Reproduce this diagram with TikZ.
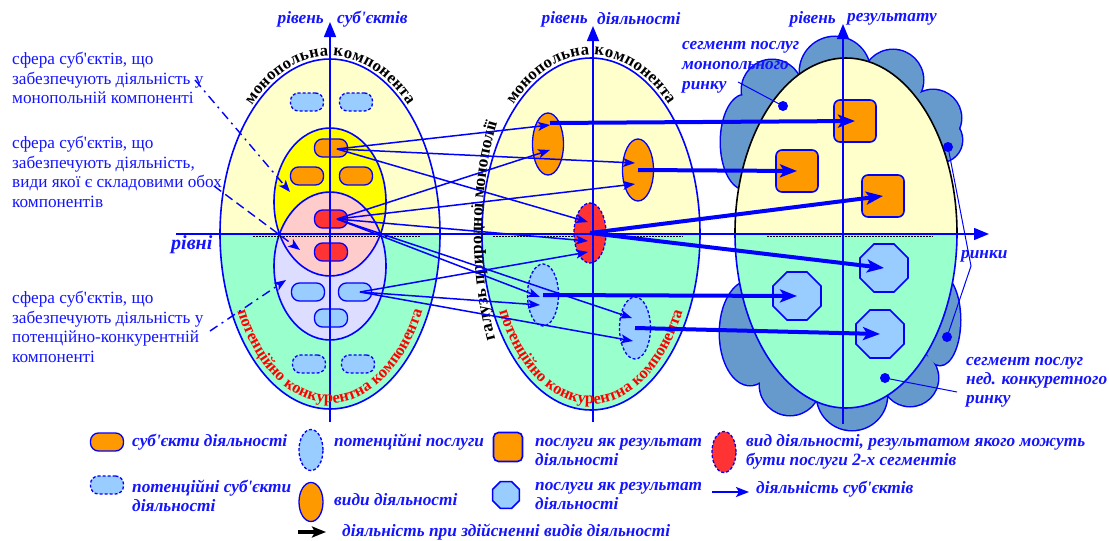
\documentclass[tikz,border=0pt]{standalone}
\usepackage{fontspec}
\setmainfont{Liberation Serif}[Ligatures=TeXOff]
\usetikzlibrary{arrows.meta,decorations.text,shapes.geometric}
\definecolor{lyel}{HTML}{FFFFCC}
\definecolor{lgrn}{HTML}{99FFCC}
\definecolor{yel}{HTML}{FFFF00}
\definecolor{pnk}{HTML}{FFCCCC}
\definecolor{lav}{HTML}{DDDDFF}
\definecolor{org}{HTML}{FF9900}
\definecolor{rd}{HTML}{FF3333}
\definecolor{lblu}{HTML}{99CCFF}
\definecolor{cld}{HTML}{6699CC}
\definecolor{tb}{HTML}{1414FF}
\definecolor{bl}{HTML}{0000FF}
\newcommand\lblfont{\fontsize{17.3}{19.5}\selectfont\bfseries\itshape}
\newcommand\annfont{\fontsize{17.2}{19.6}\selectfont}
\newcommand\crvfont{\fontsize{16.7}{17}\selectfont\bfseries}
\newcommand\crvfontr{\fontsize{16.5}{17}\selectfont\bfseries}
\newcommand\crvfontv{\fontsize{17.5}{18}\selectfont\bfseries}
\newcommand\halfell[4]{%
  \begin{scope}
  \clip (#1,#2) ellipse[x radius=#3,y radius=#4];
  \fill[lyel] (#1-#3,#2-#4) rectangle (#1+#3,#2);
  \fill[lgrn] (#1-#3,#2) rectangle (#1+#3,#2+#4);
  \end{scope}}
\tikzset{
  ol/.style={draw=bl, line width=1.3pt},
  subj/.style={ol, rectangle, rounded corners=8pt, minimum width=33pt, minimum height=18pt, inner sep=0pt, fill=org},
  psubj/.style={subj, fill=lblu, dash pattern=on 3pt off 2pt},
  rsubj/.style={subj, fill=rd},
  bsubj/.style={subj, fill=lblu},
  act/.style={ol, ellipse, minimum width=31pt, minimum height=62pt, inner sep=0pt, fill=org},
  pact/.style={act, fill=lblu, dash pattern=on 3pt off 2pt},
  ract/.style={act, fill=rd, dash pattern=on 3pt off 2pt},
  res/.style={ol, line width=1.6pt, rectangle, rounded corners=6pt, minimum size=42pt, inner sep=0pt, fill=org},
  pres/.style={ol, line width=1.6pt, regular polygon, regular polygon sides=8, minimum size=52pt, inner sep=0pt, fill=lblu},
  bigell/.style={draw=bl, line width=1.6pt},
  lbl/.style={text=tb, font=\lblfont, inner sep=0pt},
  ann/.style={text=tb, font=\annfont, inner sep=0pt, anchor=west, align=left},
  tarr/.style={draw=bl, line width=1.5pt, -{Stealth[length=12pt,width=9pt,inset=3pt]}},
  karr/.style={draw=bl, line width=4pt, -{Stealth[length=17pt,width=13pt,inset=4pt]}},
  axisl/.style={draw=bl, line width=1.5pt, -{Triangle[length=15pt,width=12pt]}},
  pointer/.style={draw=bl, line width=1pt},
  dotn/.style={circle, fill=bl, minimum size=10pt, inner sep=0pt},
  dda/.style={draw=bl, line width=1.4pt, dash pattern=on 9pt off 5pt on 2pt off 5pt, -{Stealth[length=12pt,width=9pt,inset=3pt]}},
  dsa/.style={draw=bl, line width=1.4pt, dash pattern=on 9pt off 5pt, -{Stealth[length=12pt,width=9pt,inset=3pt]}},
  divl/.style={draw=black, line width=0.8pt, dash pattern=on 1.5pt off 1.5pt},
}
\begin{document}
\begin{tikzpicture}[x=1pt,y=-1pt]
\useasboundingbox[fill=white] (0,0) rectangle (1109,541);
% ---------- clouds ----------
\begin{scope}[draw=bl, line width=3pt]
\draw (745,142) ellipse[x radius=24,y radius=47];
\draw (772,90) circle[radius=30];
\draw (835,72) circle[radius=35];
\draw (893,80) circle[radius=30];
\draw (933,118) circle[radius=28];
\draw (940,140) circle[radius=22];
\draw (940,320) ellipse[x radius=20,y radius=45];
\draw (910,378) circle[radius=28];
\draw (852,395) circle[radius=35];
\draw (790,385) circle[radius=30];
\draw (750,333) ellipse[x radius=30,y radius=52];
\end{scope}
\begin{scope}[fill=cld]
\fill (745,142) ellipse[x radius=24,y radius=47];
\fill (772,90) circle[radius=30];
\fill (835,72) circle[radius=35];
\fill (893,80) circle[radius=30];
\fill (933,118) circle[radius=28];
\fill (940,140) circle[radius=22];
\fill (745,190) -- (745,100) -- (772,90) -- (835,72) -- (893,80) -- (933,118) -- (940,140) -- (900,200) -- (780,200) -- cycle;
\fill (940,320) ellipse[x radius=20,y radius=45];
\fill (910,378) circle[radius=28];
\fill (852,395) circle[radius=35];
\fill (790,385) circle[radius=30];
\fill (750,333) ellipse[x radius=30,y radius=52];
\fill (760,290) -- (750,333) -- (790,385) -- (852,395) -- (910,378) -- (940,320) -- (930,290) -- cycle;
\end{scope}
% ---------- big ellipses ----------
\halfell{330}{234}{110}{175}
\draw[bigell] (330,234) ellipse[x radius=110,y radius=175];
\halfell{591}{234}{109}{176}
\draw[bigell] (591,234) ellipse[x radius=109,y radius=176];
\halfell{846}{233}{111}{175}
\draw[draw=black, line width=1.6pt] (735,233) arc[start angle=180, end angle=360, x radius=111, y radius=175];
\draw[bigell] (957,233) arc[start angle=0, end angle=180, x radius=111, y radius=175];
% ---------- left inner spheres ----------
\fill[yel] (330,202) ellipse[x radius=56,y radius=74];
\fill[lav] (330,266) ellipse[x radius=56,y radius=74];
\begin{scope}
\clip (330,202) ellipse[x radius=56,y radius=74];
\fill[pnk] (330,266) ellipse[x radius=56,y radius=74];
\end{scope}
\draw[bigell] (330,202) ellipse[x radius=56,y radius=74];
\draw[bigell] (330,266) ellipse[x radius=56,y radius=74];
% dotted dividers
\draw[divl] (253,236) -- (420,236);
\draw[divl] (493,236) -- (683,236);
\draw[divl] (767,236) -- (933,236);
% ---------- left subjects ----------
\node[psubj] (p1) at (307,102) {};
\node[psubj] (p2) at (356,102) {};
\node[subj] (s1) at (331,148) {};
\node[subj] (s2) at (307,176) {};
\node[subj] (s3) at (356,176) {};
\node[rsubj] (r1) at (331,219) {};
\node[rsubj] (r2) at (331,252) {};
\node[bsubj] (b1) at (308,292) {};
\node[bsubj] (b2) at (355,292) {};
\node[bsubj] (b3) at (331,318) {};
\node[psubj] (q1) at (309,364) {};
\node[psubj] (q2) at (358,364) {};
% ---------- middle activities ----------
\node[act] (e1) at (548,144) {};
\node[act] (e2) at (638,170) {};
\node[ract, minimum width=32pt, minimum height=60pt] (rr) at (590,233) {};
\node[pact] (l1) at (543,295) {};
\node[pact] (l2) at (635,328) {};
% ---------- right results ----------
\node[res] (k1) at (855,121) {};
\node[res] (k2) at (797,171) {};
\node[res] (k3) at (883,196) {};
\node[pres] (o1) at (884,268) {};
\node[pres] (o2) at (797,296) {};
\node[pres] (o3) at (880,334) {};
% ---------- axes ----------
\coordinate (v1b) at (330,422); \coordinate (v1t) at (330,22);
\coordinate (v2b) at (593,422); \coordinate (v2t) at (593,26);
\coordinate (v3b) at (843,424); \coordinate (v3t) at (843,24);
\coordinate (hl) at (176,234); \coordinate (hr) at (989,234);
\draw[axisl] (v1b) -- (v1t);
\draw[axisl] (v2b) -- (v2t);
\draw[axisl] (v3b) -- (v3t);
\draw[axisl] (hl) -- (hr);
% ---------- curved texts ----------
\path[decorate, decoration={text along path, text align=center, raise=3pt, text color=black, text={|\crvfont|монопольна компонента}}]
 (330,234) ++(200:110 and 175) arc[start angle=200, end angle=340, x radius=110, y radius=175];
\path[decorate, decoration={text along path, text align=center, text color=red, text={|\crvfontr|потенційно конкурентна компонента}}]
 (330,234) ++(165:104 and 169) arc[start angle=165, end angle=15, x radius=104, y radius=169];
\path[decorate, decoration={text along path, text align=center, raise=3pt, text color=black, text={|\crvfont|монопольна компонента}}]
 (591,234) ++(200:109 and 176) arc[start angle=200, end angle=340, x radius=109, y radius=176];
\path[decorate, decoration={text along path, text align=center, text color=red, text={|\crvfontr|потенційно конкурентна компонента}}]
 (591,234) ++(165:103 and 170) arc[start angle=165, end angle=15, x radius=103, y radius=170];
\path[decorate, decoration={text along path, text align=center, text color=black, text={|\crvfontv|галузь природної монополії}}]
 (591,234) ++(145:109 and 219) arc[start angle=145, end angle=217, x radius=109, y radius=219];
% ---------- thin arrows ----------
\coordinate (ys) at (337,149);
\coordinate (rs) at (337,219);
\coordinate (bs) at (360,292);
\coordinate (e1a) at (550,125); \coordinate (e1b) at (550,150);
\coordinate (e2a) at (635,163); \coordinate (e2b) at (635,184);
\coordinate (rra) at (588,222); \coordinate (rrb) at (588,241); \coordinate (rrc) at (588,252);
\coordinate (l1a) at (540,297); \coordinate (l1b) at (540,305);
\coordinate (l2a) at (632,318); \coordinate (l2b) at (633,341);
\draw[tarr] (ys) -- (e1a);
\draw[tarr] (ys) -- (e2a);
\draw[tarr] (ys) -- (rra);
\draw[tarr] (rs) -- (e1b);
\draw[tarr] (rs) -- (e2b);
\draw[tarr] (rs) -- (rrb);
\draw[tarr] (rs) -- (l1a);
\draw[tarr] (rs) -- (l2a);
\draw[tarr] (bs) -- (rrc);
\draw[tarr] (bs) -- (l1b);
\draw[tarr] (bs) -- (l2b);
% ---------- thick arrows ----------
\coordinate (e1s) at (550,123);
\draw[karr] (e1s) -- (k1.center);
\draw[karr] (e2.center) -- (k2.center);
\draw[karr] (rr.center) -- (k3.center);
\draw[karr] (rr.center) -- (o1.center);
\draw[karr] (l1.center) -- (o2.center);
\draw[karr] (l2.center) -- (o3.center);
% ---------- axis labels ----------
\node[lbl, anchor=east] (t1a) at (324,19) {рівень};
\node[lbl, anchor=west] (t1b) at (337,19) {суб'єктів};
\node[lbl, anchor=east] (t2a) at (588,19) {рівень};
\node[lbl, anchor=west] (t2b) at (597,19) {діяльності};
\node[lbl, anchor=east] (t3a) at (836,19) {рівень};
\node[lbl, anchor=west] (t3b) at (847,19) {результату};
\node[lbl, anchor=west, font=\fontsize{20}{22}\selectfont\bfseries\itshape] (rivni) at (171,245) {рівні};
\node[lbl, anchor=west] (rinky) at (961,256) {ринки};
\node[lbl, anchor=west, align=left, font=\fontsize{17.3}{20}\selectfont\bfseries\itshape] (seg1) at (682,67) {сегмент послуг\\монопольного\\ринку};
\node[lbl, anchor=west, align=left, font=\fontsize{17.3}{19}\selectfont\bfseries\itshape] (seg2) at (966,382) {сегмент послуг\\нед. конкуретного\\ринку};
% pointers
\node[dotn] (d1) at (783,106) {};
\node[dotn] (d2) at (948,147) {};
\node[dotn] (d3) at (947,337) {};
\node[dotn] (d4) at (885,378) {};
\coordinate (pt1) at (738,82);
\coordinate (pv) at (971,266);
\coordinate (pt4) at (957,392);
\draw[pointer] (pt1) -- (d1.center);
\draw[pointer] (d2.center) -- (pv) -- (d3.center);
\draw[pointer] (d4.center) -- (pt4);
% ---------- left annotations ----------
\node[ann] (a1) at (12,78) {сфера суб'єктів, що\\забезпечують діяльність у\\монопольній компоненті};
\node[ann] (a2) at (12,172) {сфера суб'єктів, що\\забезпечують діяльність,\\види якої є складовими обох\\компонентів};
\node[ann] (a3) at (12,327) {сфера суб'єктів, що\\забезпечують діяльність у\\потенційно-конкурентній\\компоненті};
\coordinate (a1s) at (195,80); \coordinate (a1e) at (290,192);
\coordinate (a2s) at (214,186); \coordinate (a2e) at (300,250);
\coordinate (a3s) at (210,331); \coordinate (a3e) at (286,280);
\draw[dda] (a1s) -- (a1e);
\draw[dsa] (a2s) -- (a2e);
\draw[dda] (a3s) -- (a3e);
% ---------- legend ----------
\node[subj] (g1) at (107,442) {};
\node[lbl, anchor=west] (g1t) at (132,442) {суб'єкти діяльності};
\node[psubj] (g2) at (107,485) {};
\node[lbl, anchor=west, align=left] (g2t) at (132,496) {потенційні суб'єкти\\діяльності};
\node[pact, minimum width=24pt, minimum height=41pt] (g3) at (311,450) {};
\node[lbl, anchor=west] (g3t) at (334,442) {потенційні послуги};
\node[act, minimum width=24pt, minimum height=39pt] (g4) at (311,502) {};
\node[lbl, anchor=west] (g4t) at (334,500) {види діяльності};
\coordinate (g5s) at (298,532); \coordinate (g5e) at (326,532);
\draw[draw=black, line width=3.5pt, -{Stealth[length=14pt,width=11pt,inset=3pt]}] (g5s) -- (g5e);
\node[lbl, anchor=west] (g5t) at (342,532) {діяльність при здійсненні видів діяльності};
\node[res, minimum size=29pt, rounded corners=5pt] (g6) at (508,447) {};
\node[lbl, anchor=west, align=left] (g6t) at (535,452) {послуги як результат\\діяльності};
\node[pres, minimum size=29pt] (g7) at (506,495) {};
\node[lbl, anchor=west, align=left] (g7t) at (535,496) {послуги як результат\\діяльності};
\node[ract, minimum width=24pt, minimum height=41pt] (g8) at (724,452) {};
\node[lbl, anchor=west, align=left] (g8t) at (746,452) {вид діяльності, результатом якого можуть\\бути послуги 2-х сегментів};
\coordinate (g9s) at (712,492); \coordinate (g9e) at (749,492);
\draw[draw=bl, line width=2pt, -{Stealth[length=13pt,width=10pt,inset=3pt]}] (g9s) -- (g9e);
\node[lbl, anchor=west] (g9t) at (756,489) {діяльність суб'єктів};
\end{tikzpicture}
\end{document}
